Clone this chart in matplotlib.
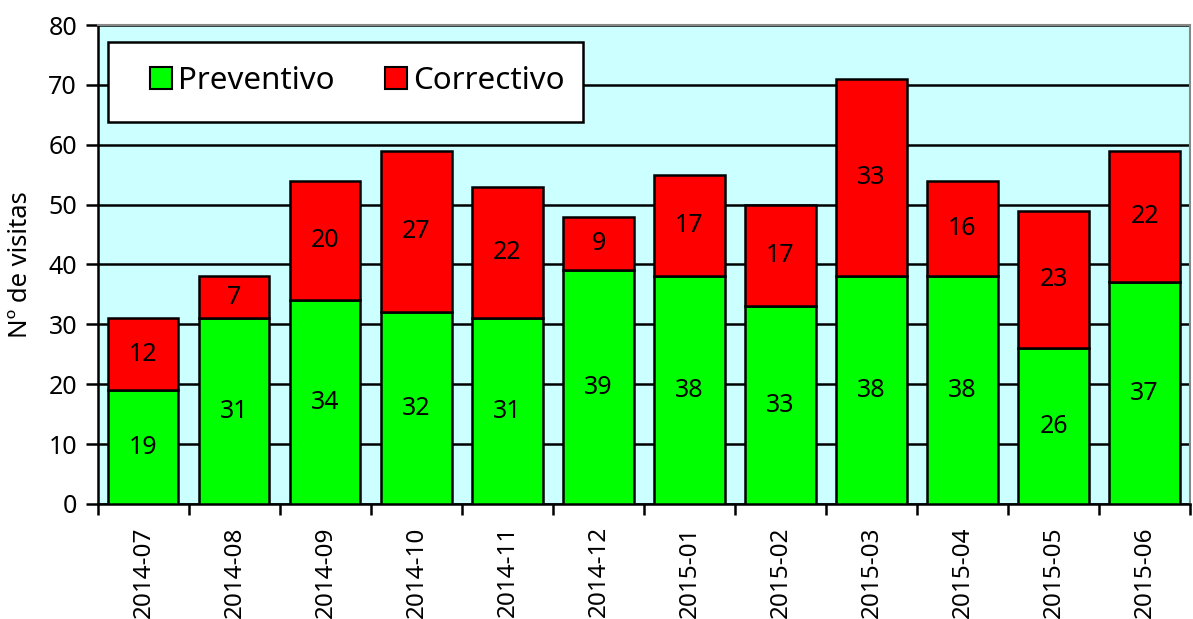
import matplotlib
matplotlib.use("Agg")
import matplotlib.pyplot as plt
from matplotlib.patches import Rectangle
import numpy as np

plt.rcParams['font.family'] = ['Noto Sans', 'DejaVu Sans']

months = ["2014-07", "2014-08", "2014-09", "2014-10", "2014-11", "2014-12",
          "2015-01", "2015-02", "2015-03", "2015-04", "2015-05", "2015-06"]
preventivo = [19, 31, 34, 32, 31, 39, 38, 33, 38, 38, 26, 37]
correctivo = [12, 7, 20, 27, 22, 9, 17, 17, 33, 16, 23, 22]

fig = plt.figure(figsize=(11.93, 6.19), dpi=100)
ax = fig.add_axes([0.0821, 0.1858, 0.9154, 0.7738])
ax.set_facecolor('#CCFFFF')

x = np.arange(len(months))
w = 0.77
ax.bar(x, preventivo, w, color='#00FF00', edgecolor='black', linewidth=1.8, label='Preventivo', zorder=3)
ax.bar(x, correctivo, w, bottom=preventivo, color='#FF0000', edgecolor='black', linewidth=1.8, label='Correctivo', zorder=3)

for i in range(len(months)):
    ax.text(x[i], preventivo[i] / 2, str(preventivo[i]), ha='center', va='center', fontsize=18, zorder=4)
    ax.text(x[i], preventivo[i] + correctivo[i] / 2, str(correctivo[i]), ha='center', va='center', fontsize=18, zorder=4)

ax.set_xlim(-0.5, len(months) - 0.5)
ax.set_ylim(0, 80)
ax.set_yticks(range(0, 81, 10))
ax.yaxis.grid(True, color='black', linewidth=1.8, zorder=1)
ax.set_axisbelow(True)

ax.set_xticks(np.arange(-0.5, len(months), 1.0))
ax.set_xticklabels([])
ax.set_xticks(x, minor=True)
ax.set_xticklabels(months, minor=True, rotation=90, fontsize=17.5)
ax.tick_params(axis='x', which='minor', length=0, pad=16)
ax.tick_params(axis='x', which='major', length=8, width=1.8, direction='out')
ax.tick_params(axis='y', length=9, width=1.8, direction='out', labelsize=18, pad=6)
ax.set_ylabel('Nº de visitas', fontsize=18.5, labelpad=11)

for s in ['left', 'bottom']:
    ax.spines[s].set_linewidth(1.8)
for s in ['top', 'right']:
    ax.spines[s].set_color('#888888')
    ax.spines[s].set_linewidth(1.5)

# legend box
box = Rectangle((0.0092, 0.7975), 0.4349, 0.167, transform=ax.transAxes,
                facecolor='white', edgecolor='black', linewidth=1.8, zorder=5)
ax.add_patch(box)

leg = ax.legend(loc='center left', bbox_to_anchor=(0.0476, 0.883), ncol=2, fontsize=22.5,
                frameon=False, handlelength=0.7, handleheight=0.7, handletextpad=0.19,
                columnspacing=1.63, borderpad=0, borderaxespad=0)
leg.set_zorder(6)
for p in leg.get_patches():
    p.set_linewidth(1.5)

fig.savefig('out.png', dpi=100)
